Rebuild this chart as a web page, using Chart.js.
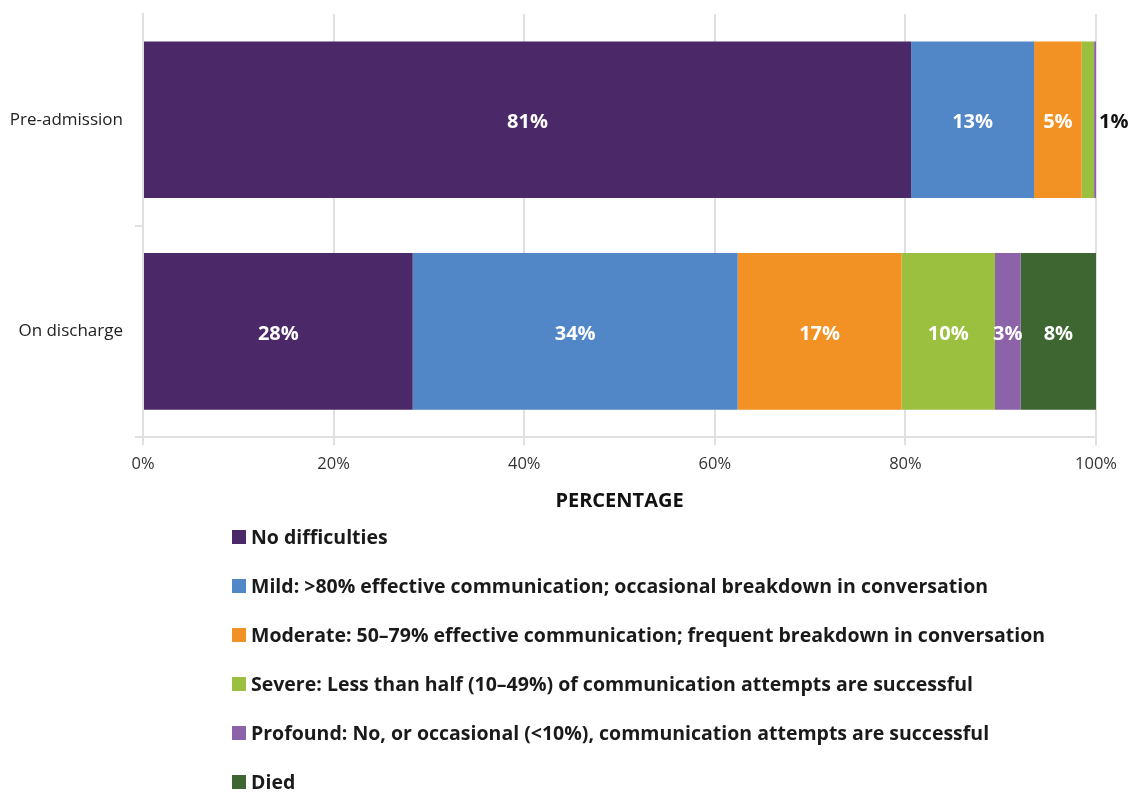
<!DOCTYPE html>
<html>
<head>
<meta charset="utf-8">
<script src="https://cdn.jsdelivr.net/npm/chart.js@4.4.0/dist/chart.umd.min.js"></script>
<style>
  body { margin: 0; background: #fff; font-family: "Open Sans", sans-serif; }
  #wrap { position: relative; width: 1141px; height: 792px; }
  #chartBox { position: absolute; left: 0; top: 0; width: 1141px; height: 517px; }
  #legend { position: absolute; left: 232px; top: 512px; margin: 0; padding: 0; list-style: none; }
  #legend li { display: flex; align-items: center; height: 49px; font-weight: bold; font-size: 19.5px; color: #1a1a1a; white-space: nowrap; }
  #legend span.box { display: inline-block; width: 14px; height: 14px; margin-right: 5px; }
</style>
</head>
<body>
<div id="wrap">
  <div id="chartBox"><canvas id="myChart"></canvas></div>
  <ul id="legend"></ul>
</div>
<script>
let categories = ['Pre-admission', 'On discharge'];

let seriesNames = [
    'No difficulties',
    'Mild: >80% effective communication; occasional breakdown in conversation',
    'Moderate: 50\u201379% effective communication; frequent breakdown in conversation',
    'Severe: Less than half (10\u201349%) of communication attempts are successful',
    'Profound: No, or occasional (<10%), communication attempts are successful',
    'Died'
];

// percentages per category (pre-admission, on discharge)
let noDifficulties = [80.6, 28.3];
let mild = [12.9, 34.1];
let moderate = [5.0, 17.2];
let severe = [1.3, 9.8];
let profound = [0.2, 2.7];
let died = [0, 7.9];

let colors = ['#4b2968', '#5187c6', '#f39224', '#9bbf3f', '#8c62a8', '#3e6630'];

let seriesValues = [noDifficulties, mild, moderate, severe, profound, died];

// value labels drawn on the bars; small ones go outside the bar end
let barLabels = {
    id: 'barLabels',
    afterDatasetsDraw(chart) {
        let ctx = chart.ctx;
        ctx.save();
        ctx.font = 'bold 20px "Open Sans"';
        ctx.textBaseline = 'middle';
        chart.data.datasets.forEach((ds, i) => {
            let meta = chart.getDatasetMeta(i);
            meta.data.forEach((bar, j) => {
                let v = ds.data[j];
                let txt = Math.round(v) + '%';
                let y = bar.y + 2.5;
                if (Math.round(v) < 1) return;
                if (v < 2) {
                    ctx.fillStyle = '#111';
                    ctx.textAlign = 'left';
                    ctx.fillText(txt, chart.chartArea.right + 3, y);
                } else {
                    ctx.fillStyle = '#fff';
                    ctx.textAlign = 'center';
                    ctx.fillText(txt, (bar.x + bar.base) / 2, y);
                }
            });
        });
        ctx.restore();
    }
};

let myChart = document.getElementById('myChart').getContext('2d');

let chart = new Chart(myChart, {
    type: 'bar',
    data: {
        labels: categories,
        datasets: seriesValues.map((vals, i) => ({
            label: seriesNames[i],
            data: vals,
            backgroundColor: colors[i],
            borderWidth: 0,
            categoryPercentage: 1,
            barPercentage: 0.74
        }))
    },
    options: {
        indexAxis: 'y',
        responsive: true,
        maintainAspectRatio: false,
        animation: false,
        layout: { padding: { top: 14, right: 45, left: 0, bottom: 0 } },
        plugins: {
            legend: { display: false },
            tooltip: { enabled: false }
        },
        scales: {
            x: {
                stacked: true,
                min: 0,
                max: 100,
                ticks: {
                    stepSize: 20,
                    padding: 9,
                    color: '#333',
                    font: { family: '"Open Sans"', size: 16.5 },
                    callback: v => v + '%'
                },
                grid: { color: '#e0e0e0', lineWidth: 2, tickLength: 8 },
                border: { color: '#e0e0e0', width: 2 },
                title: {
                    display: true,
                    text: 'PERCENTAGE',
                    color: '#111',
                    font: { family: '"Open Sans"', size: 20, weight: 'bold' },
                    padding: { top: 6, bottom: 4 }
                }
            },
            y: {
                stacked: true,
                afterFit: scale => {
                    scale.width = 143;
                    scale.paddingTop = 0;
                    scale.paddingBottom = 0;
                },
                ticks: {
                    padding: 12,
                    color: '#222',
                    font: { family: '"Open Sans"', size: 17 }
                },
                grid: {
                    drawOnChartArea: false,
                    tickLength: 8,
                    lineWidth: 2,
                    color: c => c.index === 0 ? 'rgba(0,0,0,0)' : '#e0e0e0'
                },
                border: { color: '#e0e0e0', width: 2 }
            }
        }
    },
    plugins: [barLabels]
});

// legend list built from the chart datasets
let legendList = document.getElementById('legend');
chart.data.datasets.forEach(ds => {
    let li = document.createElement('li');
    let box = document.createElement('span');
    box.className = 'box';
    box.style.background = ds.backgroundColor;
    li.appendChild(box);
    li.appendChild(document.createTextNode(ds.label));
    legendList.appendChild(li);
});
</script>
</body>
</html>
